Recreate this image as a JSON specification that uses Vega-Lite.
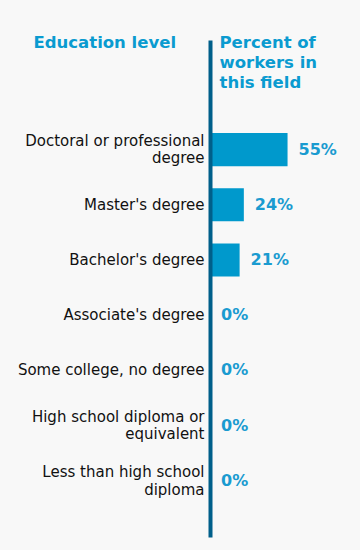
{
  "$schema": "https://vega.github.io/schema/vega-lite/v6.json",
  "width": 141,
  "height": 497,
  "autosize": {"type": "none"},
  "padding": {"left": 210, "top": 40, "right": 9, "bottom": 13},
  "background": "#f8f8f8",
  "config": {"view": {"stroke": null}, "font": "DejaVu Sans"},
  "data": {
    "values": [
      {"level": "Doctoral or professional degree", "share": 0.55},
      {"level": "Master's degree", "share": 0.24},
      {"level": "Bachelor's degree", "share": 0.21},
      {"level": "Associate's degree", "share": 0},
      {"level": "Some college, no degree", "share": 0},
      {"level": "High school diploma or equivalent", "share": 0},
      {"level": "Less than high school diploma", "share": 0}
    ]
  },
  "encoding": {
    "y": {
      "field": "level",
      "type": "nominal",
      "sort": null,
      "scale": {"paddingInner": 0, "paddingOuter": 1, "align": 0.742},
      "axis": {
        "title": "Education level",
        "titleAngle": 0,
        "titleAlign": "left",
        "titleBaseline": "alphabetic",
        "titleX": -177,
        "titleY": 7,
        "titleFontSize": 16.5,
        "titleFontWeight": "bold",
        "titleColor": "#0a9bd0",
        "labelFontSize": 15,
        "labelColor": "#111111",
        "labelLimit": 0,
        "labelPadding": 6,
        "labelOffset": {
          "condition": {
            "test": "datum.value == 'Doctoral or professional degree' || datum.value == 'High school diploma or equivalent' || datum.value == 'Less than high school diploma'",
            "value": -8.75
          },
          "value": 0
        },
        "ticks": false,
        "tickSize": 0,
        "domainColor": "#005f8a",
        "domainWidth": 4,
        "zindex": 1,
        "labelLineHeight": 17.5,
        "labelExpr": "datum.value == 'Doctoral or professional degree' ? ['Doctoral or professional', 'degree'] : datum.value == 'High school diploma or equivalent' ? ['High school diploma or', 'equivalent'] : datum.value == 'Less than high school diploma' ? ['Less than high school', 'diploma'] : datum.value"
      }
    },
    "x": {
      "field": "share",
      "type": "quantitative",
      "scale": {"domain": [0, 1]},
      "axis": {
        "orient": "top",
        "labels": false,
        "ticks": false,
        "domain": false,
        "grid": false,
        "title": ["Percent of", "workers in", "this field"],
        "titleX": 9,
        "titleY": 7,
        "titleAlign": "left",
        "titleBaseline": "alphabetic",
        "titleAngle": 0,
        "titleLineHeight": 20,
        "titleFontSize": 16.5,
        "titleFontWeight": "bold",
        "titleColor": "#0a9bd0"
      }
    }
  },
  "layer": [
    {"mark": {"type": "bar", "color": "#0099cc", "height": {"band": 0.6}}},
    {
      "mark": {"type": "text", "align": "left", "baseline": "middle", "dx": 11, "fontWeight": "bold", "fontSize": 16, "color": "#1a9bd0"},
      "encoding": {"text": {"field": "share", "type": "quantitative", "format": ".0%"}}
    }
  ]
}
